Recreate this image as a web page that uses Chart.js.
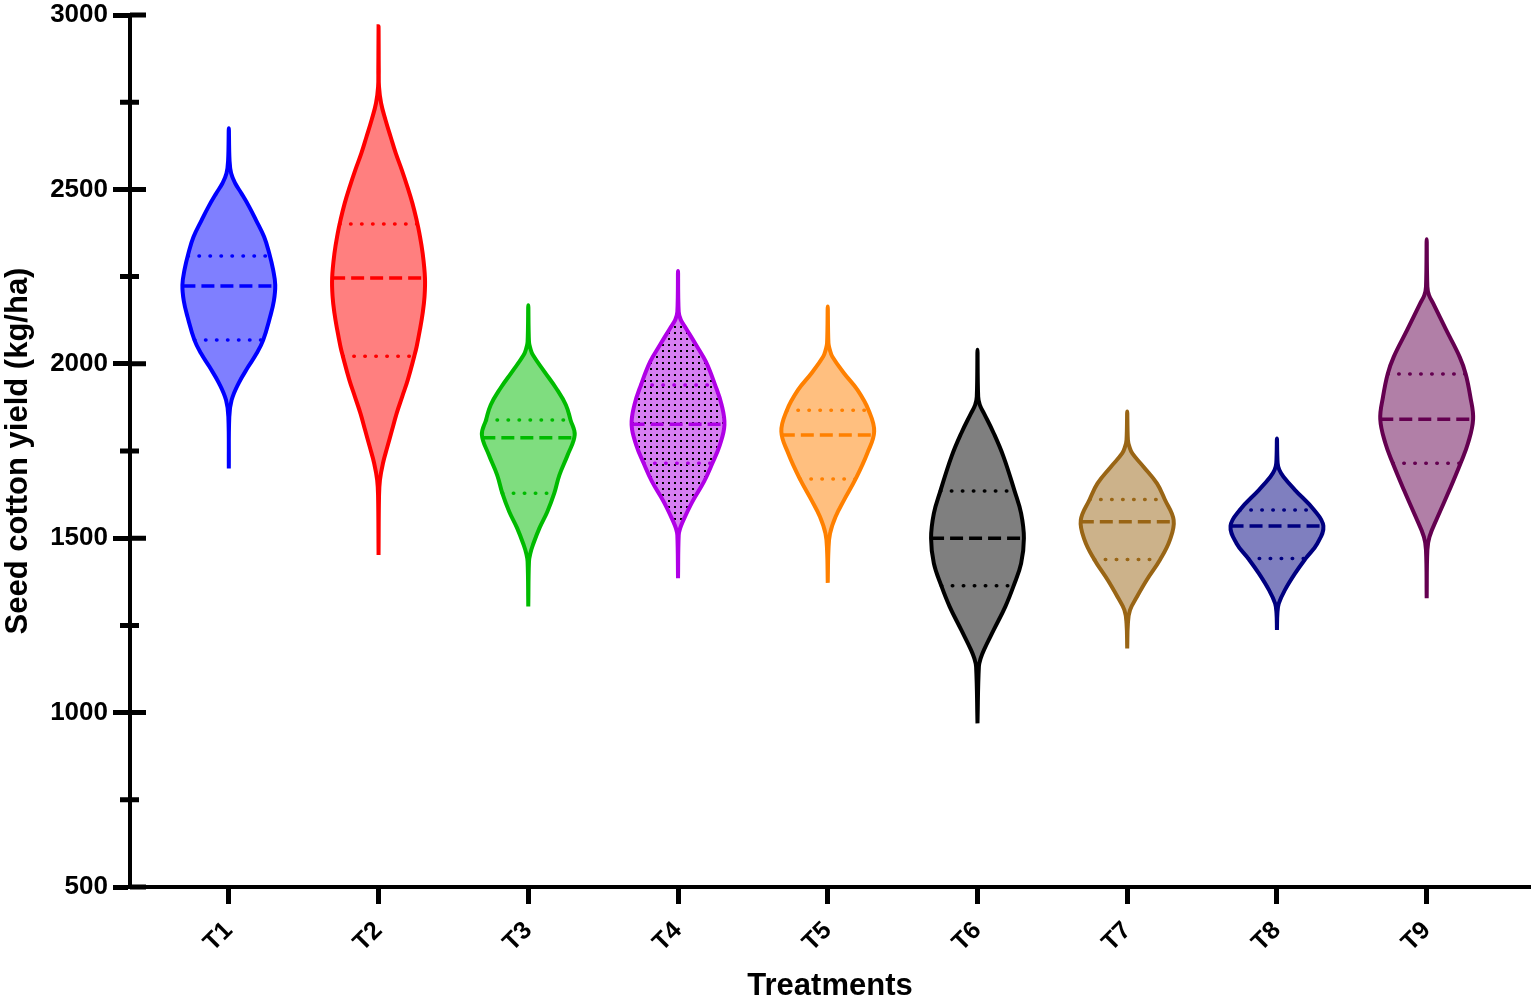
<!DOCTYPE html>
<html>
<head>
<meta charset="utf-8">
<title>Seed cotton yield violin plot</title>
<script src="https://cdn.jsdelivr.net/npm/chart.js@4.4.1/dist/chart.umd.min.js"></script>
<style>
    html, body { margin: 0; padding: 0; background: #ffffff; }
    #wrap { width: 1539px; height: 1005px; position: relative; }
</style>
</head>
<body>
<div id="wrap"><canvas id="violinChart"></canvas></div>
<script>
/* ===========================
   DATA
============================ */
const treatments = ['T1', 'T2', 'T3', 'T4', 'T5', 'T6', 'T7', 'T8', 'T9'];

// Violin outlines: yield levels (kg/ha, bottom tip -> top tip) and relative density (1 = widest)
const levelsT1  = [1700, 1848, 1896, 1944, 1992, 2030, 2068, 2135, 2180, 2226, 2269, 2317, 2364, 2412, 2450, 2489, 2517, 2546, 2584, 2675];
const densityT1 = [0, 0.01, 0.06, 0.21, 0.42, 0.60, 0.74, 0.89, 0.97, 1.0, 0.955, 0.87, 0.76, 0.585, 0.44, 0.27, 0.14, 0.05, 0.015, 0];
const levelsT2  = [1452, 1619, 1667, 1715, 1762, 1810, 1858, 1906, 1954, 2022, 2049, 2097, 2145, 2192, 2246,
                   2317, 2374, 2412, 2460, 2508, 2556, 2604, 2651, 2699, 2747, 2794, 2842, 2968];
const densityT2 = [0, 0.01, 0.03, 0.095, 0.19, 0.29, 0.39, 0.51, 0.63, 0.77, 0.82, 0.89, 0.95, 0.99, 1.0,
                   0.95, 0.88, 0.82, 0.73, 0.62, 0.50, 0.37, 0.26, 0.15, 0.055, 0.01, 0.005, 0];
const levelsT3  = [1304, 1433, 1457, 1481, 1529, 1576, 1629, 1681, 1739, 1796, 1839, 1882, 1930, 1977, 2025, 2044, 2063, 2168];
const densityT3 = [0, 0.015, 0.045, 0.10, 0.24, 0.41, 0.56, 0.67, 0.85, 1.0, 0.91, 0.81, 0.60, 0.35, 0.10, 0.045, 0.015, 0];
const levelsT4  = [1385, 1509, 1528, 1547, 1605, 1662, 1715, 1767, 1825, 1882, 1939, 2006, 2054, 2102, 2126, 2149, 2266];
const densityT4 = [0, 0.015, 0.045, 0.10, 0.31, 0.56, 0.74, 0.90, 1.0, 0.94, 0.80, 0.60, 0.39, 0.17, 0.06, 0.015, 0];
const levelsT5  = [1372, 1466, 1514, 1562, 1609, 1670, 1743, 1806, 1867, 1925, 1973, 2020, 2040, 2059, 2164];
const densityT5 = [0, 0.015, 0.05, 0.17, 0.35, 0.60, 0.85, 1.0, 0.88, 0.64, 0.35, 0.10, 0.045, 0.015, 0];
const levelsT6  = [969, 1132, 1156, 1180, 1237, 1304, 1364, 1428, 1500, 1571, 1635, 1734, 1801, 1858, 1882, 1906, 2040];
const densityT6 = [0, 0.03, 0.07, 0.14, 0.35, 0.60, 0.78, 0.94, 1.0, 0.94, 0.80, 0.56, 0.35, 0.14, 0.05, 0.015, 0];
const levelsT7  = [1184, 1256, 1294, 1332, 1380, 1439, 1495, 1552, 1611, 1657, 1705, 1743, 1763, 1782, 1863];
const densityT7 = [0, 0.015, 0.06, 0.21, 0.42, 0.71, 0.92, 1.0, 0.81, 0.64, 0.35, 0.11, 0.045, 0.015, 0];
const levelsT8  = [1237, 1285, 1313, 1351, 1399, 1442, 1485, 1535, 1581, 1638, 1676, 1696, 1715, 1786];
const densityT8 = [0, 0.01, 0.04, 0.17, 0.39, 0.62, 0.87, 1.0, 0.80, 0.39, 0.14, 0.05, 0.015, 0];
const levelsT9  = [1328, 1466, 1504, 1562, 1638, 1715, 1772, 1841, 1906, 1971, 2020, 2097, 2173, 2197, 2221, 2357];
const densityT9 = [0, 0.015, 0.06, 0.24, 0.49, 0.73, 0.89, 1.0, 0.94, 0.84, 0.71, 0.42, 0.14, 0.05, 0.015, 0];

// Quartile and median lines (kg/ha) with the relative density at that level
const lowerQuartiles = [2068, 2022, 1629, 1715, 1670, 1364, 1439, 1442, 1715];
const medians        = [2223, 2246, 1788, 1827, 1796, 1500, 1547, 1535, 1841];
const upperQuartiles = [2309, 2401, 1839, 1939, 1867, 1635, 1611, 1581, 1971];
const lowerQDensity  = [0.74, 0.77, 0.56, 0.74, 0.60, 0.78, 0.71, 0.62, 0.73];
const medianDensity  = [1.0, 1.0, 0.99, 1.0, 0.99, 1.0, 1.0, 1.0, 1.0];
const upperQDensity  = [0.88, 0.84, 0.91, 0.80, 0.88, 0.80, 0.81, 0.80, 0.84];

// Y axis ticks
const yMajorTicks = [500, 1000, 1500, 2000, 2500, 3000];
const yMinorTicks = [750, 1250, 1750, 2250, 2750];

/* ===========================
   STYLE
============================ */
const outlineColors = ['#0000ff', '#ff0000', '#00bb00', '#b000e6', '#ff8000',
                       '#000000', '#996515', '#000080', '#640050'];
const MAX_HALF_WIDTH = 0.31;   // half width of the widest part, in category units

const profiles = [
    [levelsT1, densityT1], [levelsT2, densityT2], [levelsT3, densityT3],
    [levelsT4, densityT4], [levelsT5, densityT5], [levelsT6, densityT6],
    [levelsT7, densityT7], [levelsT8, densityT8], [levelsT9, densityT9]
];

function hexToRgba(hex, a) {
    const n = parseInt(hex.slice(1), 16);
    return 'rgba(' + ((n >> 16) & 255) + ',' + ((n >> 8) & 255) + ',' + (n & 255) + ',' + a + ')';
}

// T4 has a dotted fill
function dotPattern(base) {
    const c = document.createElement('canvas');
    c.width = 6; c.height = 6;
    const g = c.getContext('2d');
    g.fillStyle = base;
    g.fillRect(0, 0, 6, 6);
    g.fillStyle = '#000';
    g.fillRect(2, 2, 2, 2);
    return g.createPattern(c, 'repeat');
}

/* ===========================
   DATASETS
============================ */
const datasets = [];

profiles.forEach(function(p, i) {
    const levels = p[0], dens = p[1];
    const cx = i + 1;
    const pts = [];
    // right side going up, then left side coming down
    for (let k = 0; k < levels.length; k++) {
        pts.push({ x: cx + dens[k] * MAX_HALF_WIDTH, y: levels[k] });
    }
    for (let k = levels.length - 2; k >= 0; k--) {
        pts.push({ x: cx - dens[k] * MAX_HALF_WIDTH, y: levels[k] });
    }
    const fillColor = hexToRgba(outlineColors[i], 0.5);
    datasets.push({
        data: pts,
        borderColor: outlineColors[i],
        backgroundColor: i === 3 ? dotPattern(fillColor) : fillColor,
        borderWidth: 4,
        fill: 'shape',
        tension: 0.4,
        pointRadius: 0,
        order: 3
    });
});

function quartileLine(i, value, dens, dash, width, cap) {
    const cx = i + 1, hw = dens * MAX_HALF_WIDTH;
    return {
        data: [{ x: cx - hw, y: value }, { x: cx + hw, y: value }],
        borderColor: outlineColors[i],
        borderWidth: width,
        borderDash: dash,
        borderCapStyle: cap,
        fill: false,
        tension: 0,
        pointRadius: 0,
        order: 1
    };
}

treatments.forEach(function(t, i) {
    datasets.push(quartileLine(i, medians[i], medianDensity[i], [13, 6], 3.5, 'butt'));
    datasets.push(quartileLine(i, upperQuartiles[i], upperQDensity[i], [0.5, 10.5], 3.5, 'round'));
    datasets.push(quartileLine(i, lowerQuartiles[i], lowerQDensity[i], [0.5, 10.5], 3.5, 'round'));
});

/* ===========================
   AXIS EXTRAS (ticks crossing the axis, minor ticks)
============================ */
const axisTicks = {
    id: 'axisTicks',
    afterDraw(chart) {
        const { ctx, chartArea, scales } = chart;
        const y = scales.y;
        const left = chartArea.left;
        ctx.save();
        ctx.strokeStyle = '#000';
        ctx.lineWidth = 5;
        ctx.beginPath();
        yMajorTicks.forEach(function(v) {
            const py = y.getPixelForValue(v);
            ctx.moveTo(left, py);
            ctx.lineTo(left + 16, py);
        });
        yMinorTicks.forEach(function(v) {
            const py = y.getPixelForValue(v);
            ctx.moveTo(left - 10, py);
            ctx.lineTo(left + 9, py);
        });
        ctx.stroke();
        ctx.restore();
    }
};

/* ===========================
   CHART
============================ */
Chart.defaults.font.family = '"Liberation Sans", Arial, Helvetica, sans-serif';
Chart.defaults.font.weight = 'bold';
Chart.defaults.color = '#000';

const ctx = document.getElementById('violinChart').getContext('2d');
const violinChart = new Chart(ctx, {
    type: 'line',
    data: { datasets: datasets },
    plugins: [axisTicks],
    options: {
        responsive: true,
        maintainAspectRatio: false,
        animation: false,
        layout: { padding: { top: 15, right: 9, left: 0, bottom: 0 } },
        plugins: {
            legend: { display: false },
            tooltip: { enabled: false }
        },
        scales: {
            x: {
                type: 'linear',
                min: 0.34,
                max: 9.69,
                afterBuildTicks: function(scale) {
                    scale.ticks = treatments.map(function(t, i) { return { value: i + 1 }; });
                },
                afterFit: function(scale) {
                    scale.height = 118;
                    scale.paddingLeft = 0;
                    scale.paddingRight = 0;
                },
                grid: { drawOnChartArea: false, tickLength: 17, tickWidth: 5, tickColor: '#000' },
                border: { display: true, width: 4, color: '#000' },
                ticks: {
                    autoSkip: false,
                    maxRotation: 45,
                    minRotation: 45,
                    padding: 12,
                    color: '#000',
                    font: { size: 25, weight: 'bold' },
                    callback: function(v) { return treatments[v - 1] || ''; }
                },
                title: {
                    display: true,
                    text: 'Treatments',
                    color: '#000',
                    font: { size: 31, weight: 'bold' },
                    padding: 0
                }
            },
            y: {
                type: 'linear',
                min: 500,
                max: 3000,
                afterBuildTicks: function(scale) {
                    scale.ticks = yMajorTicks.map(function(v) { return { value: v }; });
                },
                afterFit: function(scale) {
                    scale.width = 130;
                    scale.paddingTop = 0;
                    scale.paddingBottom = 0;
                },
                grid: { drawOnChartArea: false, tickLength: 17, tickWidth: 5, tickColor: '#000' },
                border: { display: true, width: 4, color: '#000' },
                ticks: {
                    padding: 5,
                    color: '#000',
                    font: { size: 26, weight: 'bold', lineHeight: 1 },
                    callback: function(v) { return String(v); }
                },
                title: {
                    display: true,
                    text: 'Seed cotton yield (kg/ha)',
                    color: '#000',
                    font: { size: 31, weight: 'bold' },
                    padding: 0
                }
            }
        }
    }
});
</script>
</body>
</html>
